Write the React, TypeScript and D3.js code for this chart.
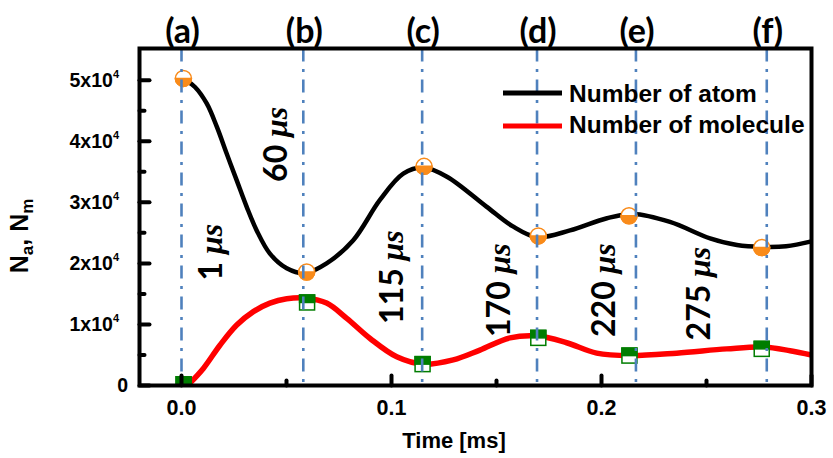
import React from 'react';
import * as d3 from 'd3';

// ---- axes ----
const xDomain: [number, number] = [-0.02, 0.3];
const yDomain: [number, number] = [0, 55200];
const xTicks = [0, 0.1, 0.2, 0.3];
const xTickLabels = ['0.0', '0.1', '0.2', '0.3'];
const xMinorTicks = [0.05, 0.15, 0.25];
const yTicks = [0, 1e4, 2e4, 3e4, 4e4, 5e4];
const yTickMantissa = ['0', '1', '2', '3', '4', '5'];
const yMinorTicks = [5e3, 15e3, 25e3, 35e3, 45e3];

// ---- number of atoms curve (time ms, N) ----
const atomT = [0.002, 0.0064, 0.012, 0.0168, 0.0215, 0.0263, 0.031, 0.0358, 0.0421, 0.0501, 0.0588, 0.0691, 0.0818, 0.0945, 0.1056, 0.1151, 0.1264, 0.1452, 0.1576, 0.1693, 0.185, 0.2026, 0.215, 0.2326, 0.2517, 0.2645, 0.2769, 0.2879, 0.3];
const atomN = [50000, 48900, 46200, 42400, 38000, 33600, 29300, 25400, 21600, 19200, 18400, 20000, 23800, 30400, 34700, 35700, 34200, 29300, 26100, 24300, 25400, 27400, 28100, 26800, 24100, 23000, 22700, 22800, 23600];

// ---- number of molecules curve ----
const molT = [0.004, 0.0104, 0.0183, 0.0263, 0.0342, 0.0421, 0.0501, 0.0596, 0.0691, 0.0787, 0.0898, 0.1025, 0.1151, 0.1294, 0.1421, 0.1564, 0.1699, 0.1834, 0.1977, 0.2136, 0.2358, 0.2596, 0.277, 0.2898, 0.3];
const molN = [400, 2800, 6600, 9900, 12100, 13500, 14200, 14300, 13500, 11000, 7700, 4700, 3500, 4200, 5800, 7800, 8100, 7000, 5300, 4900, 5300, 6000, 6300, 5700, 5000];

// ---- markers ----
const atomMarkT = [0.0009, 0.0596, 0.1155, 0.1699, 0.2131, 0.2763];
const atomMarkN = [50300, 18600, 35900, 24500, 27800, 22600];
const molMarkT = [0.001, 0.0598, 0.1148, 0.1699, 0.2133, 0.2763];
const molMarkN = [200, 13600, 3500, 7800, 4900, 6000];

// ---- event lines ----
const eventT = [0.0, 0.058, 0.1146, 0.1693, 0.2164, 0.2787];
const eventLabels = ['(a)', '(b)', '(c)', '(d)', '(e)', '(f)'];

// ---- rotated delay annotations ----
const delayText = ['1', '60', '115', '170', '220', '275'];
const delayT = [0.0193, 0.0502, 0.1055, 0.1564, 0.2064, 0.2517];
const delayN = [21850, 39500, 17760, 15630, 15630, 15060];

const legendLabels = ['Number of atom', 'Number of molecule'];

const W = 833;
const H = 458;
const L = 139.5, R = 811.5, T = 48.5, B = 385.5;

const ORANGE = '#F98B1A';
const GREEN = '#007D00';
const BLUE = '#4F81BD';

export default function App() {
  const x = d3.scaleLinear().domain(xDomain).range([L, R]);
  const y = d3.scaleLinear().domain(yDomain).range([B, T]);

  const line = d3
    .line<[number, number]>()
    .x((d) => x(d[0]))
    .y((d) => y(d[1]))
    .curve(d3.curveCatmullRom.alpha(0.5));

  const atomPath = line(atomT.map((t, i) => [t, atomN[i]] as [number, number])) || '';
  const molPath = line(molT.map((t, i) => [t, molN[i]] as [number, number])) || '';

  const axisFont = "'Liberation Sans', Arial, sans-serif";
  const calFont = "Lato, 'Open Sans', sans-serif";
  const r = 8;
  const s = 15;

  return (
    <svg width={W} height={H} style={{ position: 'absolute', left: 0, top: 0, background: '#fff' }}>
      <defs>
        <clipPath id="plotclip">
          <rect x={L} y={T} width={R - L} height={B - T} />
        </clipPath>
      </defs>
      <rect x={0} y={0} width={W} height={H} fill="#fff" />

      <g clipPath="url(#plotclip)">
        <path d={atomPath} fill="none" stroke="#000" strokeWidth={4.5} />
        <path d={molPath} fill="none" stroke="#FF0000" strokeWidth={5.5} />

        {molMarkT.map((t, i) => {
          const cx = x(t);
          const cy = y(molMarkN[i]);
          return (
            <g key={'m' + i}>
              <rect x={cx - s / 2} y={cy - s / 2} width={s} height={s} fill="#fff" stroke={GREEN} strokeWidth={1.5} />
              <rect x={cx - s / 2} y={cy - s / 2} width={s} height={s / 2} fill={GREEN} stroke={GREEN} strokeWidth={1.5} />
            </g>
          );
        })}

        {atomMarkT.map((t, i) => {
          const cx = x(t);
          const cy = y(atomMarkN[i]);
          return (
            <g key={'a' + i}>
              <circle cx={cx} cy={cy} r={r} fill="#fff" stroke={ORANGE} strokeWidth={1.5} />
              <path
                d={`M${cx - r},${cy} A${r},${r} 0 0 0 ${cx + r},${cy} Z`}
                fill={ORANGE}
                stroke={ORANGE}
                strokeWidth={1.5}
              />
            </g>
          );
        })}

        {eventT.map((t, i) => (
          <line
            key={'e' + i}
            x1={x(t)}
            x2={x(t)}
            y1={T}
            y2={B}
            stroke={BLUE}
            strokeWidth={2.6}
            strokeDasharray="13,7.5,3,7.5"
          />
        ))}
      </g>

      {/* frame */}
      <rect x={L} y={T} width={R - L} height={B - T} fill="none" stroke="#000" strokeWidth={4} />

      {/* ticks */}
      {xTicks.map((t, i) => (
        <line key={'xt' + i} x1={x(t)} x2={x(t)} y1={B} y2={B - 10} stroke="#000" strokeWidth={4} strokeLinecap="round" />
      ))}
      {xMinorTicks.map((t, i) => (
        <line key={'xm' + i} x1={x(t)} x2={x(t)} y1={B} y2={B - 5} stroke="#000" strokeWidth={4} strokeLinecap="round" />
      ))}
      {yTicks.map((v, i) => (
        <line key={'yt' + i} x1={L} x2={L + 10} y1={y(v)} y2={y(v)} stroke="#000" strokeWidth={4} strokeLinecap="round" />
      ))}
      {yMinorTicks.map((v, i) => (
        <line key={'ym' + i} x1={L} x2={L + 5} y1={y(v)} y2={y(v)} stroke="#000" strokeWidth={4} strokeLinecap="round" />
      ))}

      {/* x tick labels */}
      {xTicks.map((t, i) => (
        <text key={'xl' + i} x={x(t)} y={415} textAnchor="middle" fontFamily={axisFont} fontWeight="bold" fontSize={21.5}>
          {xTickLabels[i]}
        </text>
      ))}

      {/* y tick labels */}
      {yTicks.map((v, i) =>
        v === 0 ? (
          <text key={'yl' + i} x={128} y={y(v) + 6.5} textAnchor="end" fontFamily={axisFont} fontWeight="bold" fontSize={19.5}>
            0
          </text>
        ) : (
          <text key={'yl' + i} x={119} y={y(v) + 7} textAnchor="end" fontFamily={axisFont} fontWeight="bold" fontSize={19.5}>
            {yTickMantissa[i] + 'x10'}
            <tspan fontSize={11} dy={-9}>4</tspan>
          </text>
        )
      )}

      {/* axis titles */}
      <text x={454} y={448} textAnchor="middle" fontFamily={axisFont} fontWeight="bold" fontSize={22}>
        Time [ms]
      </text>
      <text transform="translate(28,236) rotate(-90)" textAnchor="middle" fontFamily={axisFont} fontWeight="bold" fontSize={25}>
        N<tspan fontSize={17} dy={5}>a</tspan>
        <tspan dy={-5}>, N</tspan>
        <tspan fontSize={17} dy={5}>m</tspan>
      </text>

      {/* top event labels */}
      {eventT.map((t, i) => (
        <text key={'el' + i} x={x(t) + 1} y={43} textAnchor="middle" fontFamily={calFont} fontWeight="bold" fontSize={34}>
          {eventLabels[i]}
        </text>
      ))}

      {/* delay annotations */}
      {delayText.map((d, i) => (
        <text
          key={'dl' + i}
          transform={`translate(${x(delayT[i])},${y(delayN[i])}) rotate(-90)`}
          textAnchor="middle"
          fontFamily={calFont}
          fontWeight="bold"
          fontSize={32}
        >
          {d + '\u00a0'}
          <tspan fontFamily="'Liberation Serif', 'DejaVu Serif', serif" fontStyle="italic">μs</tspan>
        </text>
      ))}

      {/* legend */}
      <line x1={503} x2={562} y1={93} y2={93} stroke="#000" strokeWidth={5} />
      <line x1={503} x2={562} y1={126} y2={126} stroke="#FF0000" strokeWidth={5} />
      <text x={569} y={101.7} fontFamily={axisFont} fontWeight="bold" fontSize={24.5}>
        {legendLabels[0]}
      </text>
      <text x={569} y={133.3} fontFamily={axisFont} fontWeight="bold" fontSize={24.5}>
        {legendLabels[1]}
      </text>
    </svg>
  );
}
